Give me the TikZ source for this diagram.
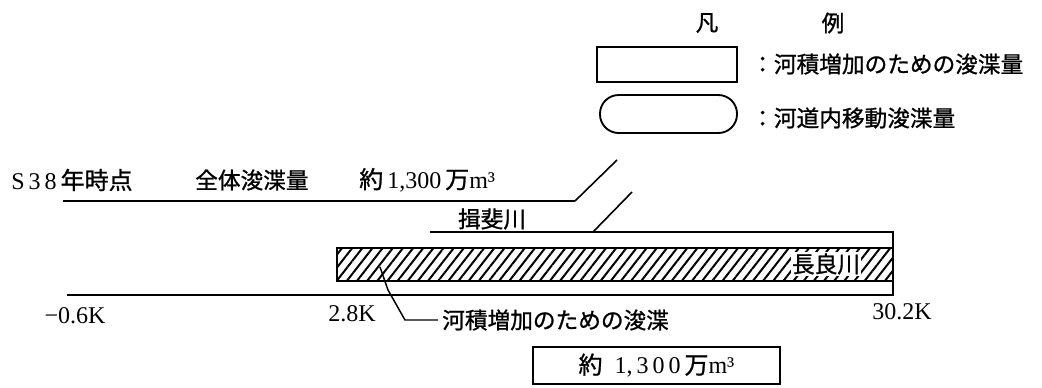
\documentclass[tikz,border=0pt]{standalone}
\usepackage{fontspec}
\setmainfont{Liberation Serif}
\newfontfamily\jp{Noto Sans CJK JP}[FakeBold=1]
\usetikzlibrary{patterns.meta}
\begin{document}
\begin{tikzpicture}[x=0.75pt,y=-0.75pt,
  lbl/.style={font=\fontsize{18}{20}\selectfont, inner sep=0pt},
  jlbl/.style={font=\jp\fontsize{17}{20}\selectfont, inner sep=0pt},
  mainline/.style={line width=1.7pt},
  thinline/.style={line width=1.2pt},
  leader/.style={line width=1.1pt},
  legendbox/.style={draw, line width=1.4pt, minimum width=105pt, minimum height=26.25pt, inner sep=0pt},
  legendround/.style={draw, line width=1.4pt, minimum width=102.75pt, minimum height=28.5pt, rounded corners=14pt, inner sep=0pt},
  totalbox/.style={draw, line width=1.5pt, minimum width=185pt, minimum height=27.75pt, inner sep=0pt, font=\fontsize{18}{20}\selectfont}
]
\useasboundingbox (0,0) rectangle (1042,387);

% legend
\node[jlbl] (han) at (707,23) {凡};
\node[jlbl] (rei) at (833,23) {例};
\node[legendbox] (lb1) at (667,64.5) {};
\node[legendround] (lb2) at (668.5,114) {};
\node[jlbl, anchor=west] (lt1) at (751,64) {：河積増加のための浚渫量};
\node[jlbl, anchor=west] (lt2) at (751,118) {：河道内移動浚渫量};

% top row
\node[lbl, anchor=west] (s38) at (11,180) {S\,3\,8\,{\jp 年時点}};
\node[jlbl, anchor=west] (zentai) at (195,180) {全体浚渫量};
\node[lbl, anchor=west] (yaku1) at (359,180) {{\jp 約}\,1,300\,{\jp 万}m³};

% lines
\coordinate (l1a) at (63,201);
\coordinate (l1b) at (575,201);
\coordinate (l1c) at (617,160);
\draw[mainline] (l1a) -- (l1b);
\draw[thinline] (l1b) -- (l1c);

\coordinate (l2a) at (430,232);
\coordinate (l2b) at (893,232);
\coordinate (l3b) at (893,295);
\coordinate (l3a) at (67,295);
\draw[mainline] (l2a) -- (l2b) -- (l3b) -- (l3a);

\coordinate (d2a) at (593,232);
\coordinate (d2b) at (632,192);
\draw[thinline] (d2a) -- (d2b);

\node[jlbl] (ibi) at (492,219) {揖斐川};

% hatched Nagara
\draw[line width=1.5pt, pattern={Lines[angle=52,distance=6pt,line width=1.5pt]}] (337,248) rectangle (893,281);
\node[jlbl, fill=white, inner sep=1pt] (nagara) at (826,264) {長良川};

% leader
\coordinate (ld0) at (380,267);
\coordinate (ld1) at (388,290);
\coordinate (ld2) at (405,320);
\node[jlbl, anchor=west, inner sep=3pt] (lt3) at (438,320) {河積増加のための浚渫};
\draw[leader] (ld0) -- (ld1) -- (ld2) -- (lt3.west);

% km labels
\node[lbl] (km0) at (75,316) {−0.6K};
\node[lbl] (km1) at (352,314) {2.8K};
\node[lbl] (km2) at (902,312) {30.2K};

% total
\node[totalbox] (total) at (656.5,365.5) {{\jp 約}\enspace1,\,3\,0\,0\,{\jp 万}m³};
\end{tikzpicture}
\end{document}
